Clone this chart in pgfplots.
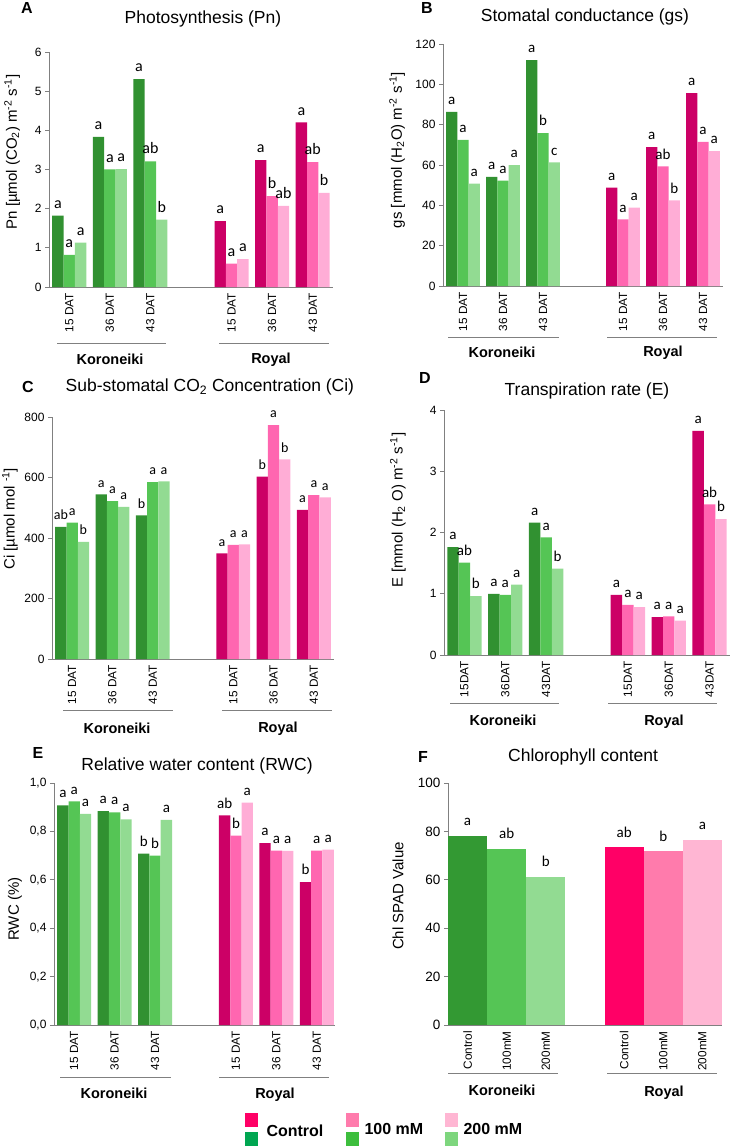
\documentclass[border=0pt]{standalone}
\usepackage{fontspec}
\setmainfont{Liberation Sans}
\newfontfamily\letfont{Carlito}
\usepackage{pgfplots}
\usepackage{pgfplotstable}
\pgfplotsset{compat=1.18}
\newcommand\fs[1]{\fontsize{#1}{#1}\selectfont}

\definecolor{g1}{HTML}{319131}
\definecolor{g2}{HTML}{55C555}
\definecolor{g3}{HTML}{92DB92}
\definecolor{p1}{HTML}{CC0066}
\definecolor{p2}{HTML}{FF66B0}
\definecolor{p3}{HTML}{FFADD6}
\definecolor{fg1}{HTML}{339933}
\definecolor{fg2}{HTML}{55C555}
\definecolor{fg3}{HTML}{92DB92}
\definecolor{fp1}{HTML}{FF0066}
\definecolor{fp2}{HTML}{FF7BAC}
\definecolor{fp3}{HTML}{FFB6D3}
\definecolor{lg1}{HTML}{00A651}
\definecolor{lg2}{HTML}{3DBE3D}
\definecolor{lg3}{HTML}{7ED67E}
\definecolor{axgray}{HTML}{808080}
\colorlet{kA}{g1}\colorlet{kB}{g2}\colorlet{kC}{g3}
\colorlet{rA}{p1}\colorlet{rB}{p2}\colorlet{rC}{p3}

% g = group centre, c/m/h = Control/100 mM/200 mM, l* = letters
\pgfplotstableread{
g c m h lc lm lh
0 1.82 0.82 1.13 a a a
1 3.83 3.00 3.01 a a a
2 5.31 3.21 1.72 a ab b
}\Ak
\pgfplotstableread{
g c m h lc lm lh
4 1.68 0.60 0.71 a a a
5 3.24 2.32 2.07 a b ab
6 4.20 3.19 2.40 a ab b
}\Ar
\pgfplotstableread{
g c m h lc lm lh
0 86.4 72.5 50.8 a a a
1 54.1 52.3 59.9 a a a
2 112 75.8 61.3 a b c
}\Bk
\pgfplotstableread{
g c m h lc lm lh
4 48.8 33.0 38.9 a a a
5 68.9 59.3 42.4 a ab b
6 95.7 71.5 66.9 a a a
}\Br
\pgfplotstableread{
g c m h lc lm lh
0 437 451 387 ab a b
1 544 522 503 a a a
2 475 585 587 b a a
}\Ck
\pgfplotstableread{
g c m h lc lm lh
4 349 377 379 a a a
5 603 773 660 b a b
6 493 542 534 a a a
}\Cr
\pgfplotstableread{
g c m h lc lm lh
0 1.76 1.51 0.96 a ab b
1 1.00 0.98 1.15 a a a
2 2.16 1.92 1.41 a a b
}\Dk
\pgfplotstableread{
g c m h lc lm lh
4 0.98 0.82 0.78 a a a
5 0.62 0.63 0.56 a a a
6 3.66 2.46 2.22 a ab b
}\Dr
\pgfplotstableread{
g c m h lc lm lh
0 0.908 0.924 0.872 a a a
1 0.884 0.879 0.850 a a a
2 0.708 0.700 0.848 b b a
}\Ek
\pgfplotstableread{
g c m h lc lm lh
4 0.866 0.783 0.919 ab b a
5 0.752 0.721 0.720 a a a
6 0.590 0.721 0.725 b a a
}\Er
\pgfplotstableread{
g c m h lc lm lh
1 78.2 72.8 61.1 a ab b
}\Fk
\pgfplotstableread{
g c m h lc lm lh
5 73.4 71.7 76.4 ab b a
}\Fr

\newcommand\sixbars[3]{%
\addplot[ybar,bar shift=0pt,fill=kA,draw=none] table[x expr=\thisrow{g}-#3,y=c,meta=lc]{#1};
\addplot[ybar,bar shift=0pt,fill=kB,draw=none] table[x expr=\thisrow{g},y=m,meta=lm]{#1};
\addplot[ybar,bar shift=0pt,fill=kC,draw=none] table[x expr=\thisrow{g}+#3,y=h,meta=lh]{#1};
\addplot[ybar,bar shift=0pt,fill=rA,draw=none] table[x expr=\thisrow{g}-#3,y=c,meta=lc]{#2};
\addplot[ybar,bar shift=0pt,fill=rB,draw=none] table[x expr=\thisrow{g},y=m,meta=lm]{#2};
\addplot[ybar,bar shift=0pt,fill=rC,draw=none] table[x expr=\thisrow{g}+#3,y=h,meta=lh]{#2};
}

\pgfplotsset{
  panel/.style={
    scale only axis, anchor=south west,
    axis x line*=bottom, axis y line*=left,
    axis line style={draw=axgray, line width=0.9pt, -},
    ymin=0, enlargelimits=false, xmin=-0.5, xmax=6.5,
    xtick={0,1,2,4,5,6},
    xtick style={draw=none},
    ytick style={draw=axgray, line width=0.7pt},
    tick align=outside, major tick length=4pt,
    xticklabel style={rotate=90, anchor=east, font=\fs{11.8}, inner sep=2pt},
    yticklabel style={font=\fs{12}},
    /pgf/number format/assume math mode=true,
    clip=false,
    bar width=0.28,
    title style={anchor=center, font=\fs{17.5}},
    ylabel style={anchor=center, font=\fs{15}},
    nodes near coords, point meta=explicit symbolic,
    every node near coord/.append style={anchor=south, inner sep=0pt, yshift=7pt, text=black, font=\letfont\fs{15}},
  },
}
\tikzset{grp/.style={draw=axgray, line width=0.8pt}}

\begin{document}
\begin{tikzpicture}
\path[use as bounding box] (0pt,-1147pt) rectangle (731pt,0pt);

% ---------- A ----------
\begin{axis}[panel, at={(49pt,-287pt)}, width=284pt, height=235pt,
  ymax=6, ytick={0,1,2,3,4,5,6},
  title={Photosynthesis (Pn)}, title style={at={(axis description cs:0.542,1.115)}},
  ylabel={Pn [µmol (CO\textsubscript{2}) m\textsuperscript{-2} s\textsuperscript{-1}]},
  ylabel style={at={(axis description cs:-0.130,0.574)}},
  xticklabels={15 DAT,36 DAT,43 DAT,15 DAT,36 DAT,43 DAT},
  every node near coord/.append style={font=\letfont\fs{16}}]
\sixbars{\Ak}{\Ar}{0.28}
\end{axis}

% ---------- B ----------
\begin{axis}[panel, at={(443pt,-286pt)}, width=280pt, height=242pt,
  ymax=120, ytick={0,20,40,60,80,100,120},
  title={Stomatal conductance (gs)}, title style={at={(axis description cs:0.507,1.087)}},
  ylabel={gs [mmol (H\textsubscript{2}O) m\textsuperscript{-2} s\textsuperscript{-1}]},
  ylabel style={at={(axis description cs:-0.164,0.562)}},
  xticklabels={15 DAT,36 DAT,43 DAT,15 DAT,36 DAT,43 DAT}]
\sixbars{\Bk}{\Br}{0.28}
\end{axis}

% ---------- C ----------
\begin{axis}[panel, at={(52pt,-659pt)}, width=282pt, height=242pt,
  ymax=800, ytick={0,200,400,600,800},
  title={Sub-stomatal CO\textsubscript{2} Concentration (Ci)}, title style={at={(axis description cs:0.560,1.099)}},
  ylabel={Ci [µmol mol \textsuperscript{-1}]},
  ylabel style={at={(axis description cs:-0.149,0.579)}},
  xticklabels={15 DAT,36 DAT,43 DAT,15 DAT,36 DAT,43 DAT},
  every node near coord/.append style={font=\letfont\fs{14}}]
\sixbars{\Ck}{\Cr}{0.28}
\end{axis}

% ---------- D ----------
\begin{axis}[panel, at={(444pt,-655pt)}, width=286pt, height=245pt,
  ymax=4, ytick={0,1,2,3,4},
  title={Transpiration rate (E)}, title style={at={(axis description cs:0.500,1.053)}},
  ylabel={E [mmol (H\textsubscript{2} O) m\textsuperscript{-2} s\textsuperscript{-1}]},
  ylabel style={at={(axis description cs:-0.161,0.592)}},
  xticklabels={15DAT,36DAT,43DAT,15DAT,36DAT,43DAT}]
\sixbars{\Dk}{\Dr}{0.28}
\end{axis}

% ---------- E ----------
\begin{axis}[panel, at={(54pt,-1025pt)}, width=281pt, height=242pt,
  xmax=6.45,
  ymax=1, ytick={0,0.2,0.4,0.6,0.8,1},
  yticklabel style={/pgf/number format/.cd, fixed, fixed zerofill, precision=1, use comma},
  title={Relative water content (RWC)}, title style={at={(axis description cs:0.509,1.045)}},
  ylabel={RWC (\%)},
  ylabel style={at={(axis description cs:-0.139,0.479)}},
  xticklabels={15 DAT,36 DAT,43 DAT,15 DAT,36 DAT,43 DAT}]
\sixbars{\Ek}{\Er}{0.28}
\end{axis}

% ---------- F ----------
\colorlet{kA}{fg1}\colorlet{kB}{fg2}\colorlet{kC}{fg3}
\colorlet{rA}{fp1}\colorlet{rB}{fp2}\colorlet{rC}{fp3}
\begin{axis}[panel, at={(448pt,-1025pt)}, width=274pt, height=242pt,
  bar width=1,
  ymax=100, ytick={0,20,40,60,80,100},
  yticklabel style={font=\fs{13.5}},
  title={Chlorophyll content}, title style={at={(axis description cs:0.493,1.083)}},
  ylabel={Chl SPAD Value},
  ylabel style={at={(axis description cs:-0.182,0.533)}},
  xticklabels={Control,100mM,200mM,Control,100mM,200mM},
  every node near coord/.append style={font=\letfont\fs{15}, yshift=3pt}]
\sixbars{\Fk}{\Fr}{1}
\end{axis}

% ---------- panel letters ----------
\begin{scope}[every node/.style={font=\bfseries\fs{16}}]
\node at (27pt,-8.5pt) {A};
\node at (427pt,-8.5pt) {B};
\node at (28pt,-387pt) {C};
\node at (425pt,-378pt) {D};
\node at (38pt,-753pt) {E};
\node at (423pt,-757pt) {F};
\end{scope}

% ---------- cultivar brackets ----------
\begin{scope}[every node/.style={font=\bfseries\fs{14.5}}]
\draw[grp] (57pt,-343pt) -- (166pt,-343pt);
\draw[grp] (219pt,-343pt) -- (329pt,-343pt);
\node at (110pt,-359pt) {Koroneiki};
\node at (271pt,-360pt) {Royal};
\draw[grp] (448pt,-337pt) -- (559pt,-337pt);
\draw[grp] (607pt,-337pt) -- (717pt,-337pt);
\node at (502pt,-352pt) {Koroneiki};
\node at (663pt,-353pt) {Royal};
\draw[grp] (63pt,-710pt) -- (173pt,-710pt);
\draw[grp] (222pt,-710pt) -- (332pt,-710pt);
\node at (117pt,-728pt) {Koroneiki};
\node at (278pt,-729pt) {Royal};
\draw[grp] (450pt,-703pt) -- (559pt,-703pt);
\draw[grp] (608pt,-703pt) -- (717pt,-703pt);
\node at (503pt,-720pt) {Koroneiki};
\node at (664pt,-722pt) {Royal};
\draw[grp] (60pt,-1077pt) -- (171pt,-1077pt);
\draw[grp] (219pt,-1077pt) -- (329pt,-1077pt);
\node at (114pt,-1093pt) {Koroneiki};
\node at (275pt,-1095pt) {Royal};
\draw[grp] (448pt,-1073pt) -- (558pt,-1073pt);
\draw[grp] (607pt,-1073pt) -- (717pt,-1073pt);
\node at (502pt,-1090pt) {Koroneiki};
\node at (664pt,-1093pt) {Royal};
\end{scope}

% ---------- legend ----------
\fill[fp1] (245pt,-1113pt) rectangle (258pt,-1127pt);
\fill[lg1] (245pt,-1132pt) rectangle (258pt,-1146pt);
\node[anchor=west, font=\bfseries\fs{16}] at (263pt,-1131pt) {Control};
\fill[fp2] (346pt,-1113pt) rectangle (359pt,-1127pt);
\fill[lg2] (346pt,-1132pt) rectangle (359pt,-1146pt);
\node[anchor=west, font=\bfseries\fs{16}] at (361pt,-1129pt) {100 mM};
\fill[fp3] (445pt,-1113pt) rectangle (458pt,-1127pt);
\fill[lg3] (445pt,-1132pt) rectangle (458pt,-1146pt);
\node[anchor=west, font=\bfseries\fs{16}] at (460pt,-1129pt) {200 mM};
\end{tikzpicture}
\end{document}
